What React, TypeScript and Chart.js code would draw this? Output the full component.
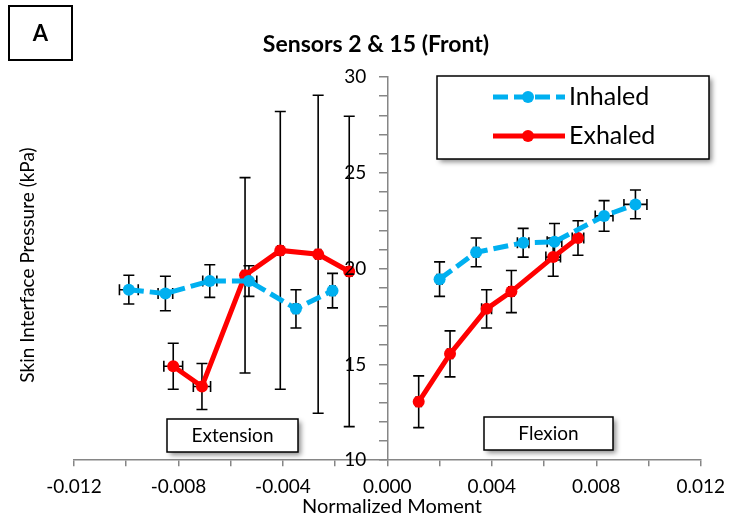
import React, { useEffect, useRef } from "react";
import { Chart, registerables } from "chart.js";
Chart.register(...registerables);

const FONT = "Lato, 'Open Sans', sans-serif";

const chartTitle = "Sensors 2 & 15 (Front)";
const panelLabel = "A";
const xAxisTitle = "Normalized Moment";
const yAxisTitle = "Skin Interface Pressure (kPa)";
const seriesNames = ["Inhaled", "Exhaled"];
const regionLabels = ["Extension", "Flexion"];

// Inhaled (extension side then flexion side)
const inhaledX = [-0.0099, -0.0085, -0.0068, -0.0053, -0.0035, -0.0021, 0.002, 0.0034, 0.0052, 0.0064, 0.0083, 0.0095];
const inhaledY = [18.9, 18.7, 19.35, 19.35, 17.9, 18.85, 19.45, 20.85, 21.35, 21.4, 22.75, 23.35];
const inhaledYErr = [0.75, 0.9, 0.85, 0.8, 1.0, 0.9, 0.9, 0.75, 0.75, 0.95, 0.8, 0.75];
const inhaledXErr = [0.00036, 0.00028, 0.00027, 0.0003, 0.0001, 0.0001, 0.0001, 0.0001, 0.00022, 0.00028, 0.00034, 0.00044];

// Exhaled
const exhaledX = [-0.0082, -0.0071, -0.00545, -0.0041, -0.00265, -0.00146, 0.0012, 0.0024, 0.0038, 0.00475, 0.00635, 0.0073];
const exhaledY = [14.9, 13.85, 19.65, 20.95, 20.75, 19.85, 13.05, 15.55, 17.9, 18.8, 20.6, 21.6];
const exhaledYErr = [1.2, 1.2, 5.1, 7.25, 8.3, 8.1, 1.35, 1.2, 1.0, 1.1, 1.0, 0.9];
const exhaledXErr = [0.00036, 0.00033, 0.0001, 0.0001, 0.0001, 0.0001, 0.0001, 0.0001, 0.00019, 0.0001, 0.00028, 0.00022];

const BLUE = "#00B0F0";
const RED = "#FF0000";
const AXIS_GRAY = "#868686";
const BLUE_DASH = [15, 6];

function buildPoints(xs: number[], ys: number[]) {
  const pts: any[] = [];
  xs.forEach((x, i) => {
    if (i > 0 && xs[i - 1] < 0 && x > 0) pts.push({ x: 0, y: null });
    pts.push({ x, y: ys[i] });
  });
  return pts;
}

const errorBarPlugin = {
  id: "errorBars",
  beforeDatasetsDraw(chart: any) {
    const { ctx, scales } = chart;
    const xs = scales.x;
    const ys = scales.y;
    const sets = [
      [inhaledX, inhaledY, inhaledXErr, inhaledYErr],
      [exhaledX, exhaledY, exhaledXErr, exhaledYErr],
    ];
    ctx.save();
    ctx.strokeStyle = "#000";
    ctx.lineWidth = 1.6;
    const cap = 5.5;
    sets.forEach(([X, Y, XE, YE]) => {
      X.forEach((xv: number, i: number) => {
        const px = xs.getPixelForValue(xv);
        const py = ys.getPixelForValue(Y[i]);
        const t = ys.getPixelForValue(Y[i] + YE[i]);
        const b = ys.getPixelForValue(Y[i] - YE[i]);
        const l = xs.getPixelForValue(xv - XE[i]);
        const r = xs.getPixelForValue(xv + XE[i]);
        ctx.beginPath();
        ctx.moveTo(px, t); ctx.lineTo(px, b);
        ctx.moveTo(px - cap, t); ctx.lineTo(px + cap, t);
        ctx.moveTo(px - cap, b); ctx.lineTo(px + cap, b);
        ctx.moveTo(l, py); ctx.lineTo(r, py);
        ctx.moveTo(l, py - cap); ctx.lineTo(l, py + cap);
        ctx.moveTo(r, py - cap); ctx.lineTo(r, py + cap);
        ctx.stroke();
      });
    });
    ctx.restore();
  },
};

// y tick labels drawn left of the centred y axis, from the scale's own ticks
const yLabelPlugin = {
  id: "yLabels",
  afterDraw(chart: any) {
    const { ctx, scales } = chart;
    const ys = scales.y;
    const axisX = scales.x.getPixelForValue(0);
    ctx.save();
    ctx.fillStyle = "#000";
    ctx.font = `19px ${FONT}`;
    ctx.textAlign = "right";
    ctx.textBaseline = "middle";
    ys.ticks.forEach((t: any) => {
      const v = Math.round(t.value);
      if (v % 5 !== 0) return;
      ctx.fillText(String(v), axisX - 21, ys.getPixelForValue(t.value));
    });
    ctx.restore();
  },
};

function shadowBox(ctx: CanvasRenderingContext2D, x: number, y: number, w: number, h: number, lw: number) {
  ctx.save();
  ctx.shadowColor = "rgba(0,0,0,0.45)";
  ctx.shadowBlur = 5;
  ctx.shadowOffsetX = 3;
  ctx.shadowOffsetY = 3;
  ctx.fillStyle = "#fff";
  ctx.fillRect(x, y, w, h);
  ctx.restore();
  ctx.save();
  ctx.strokeStyle = "#000";
  ctx.lineWidth = lw;
  ctx.strokeRect(x, y, w, h);
  ctx.restore();
}

const decorPlugin = {
  id: "decor",
  afterDraw(chart: any) {
    const ctx: CanvasRenderingContext2D = chart.ctx;
    // Panel label box
    ctx.save();
    ctx.strokeStyle = "#000";
    ctx.lineWidth = 2;
    ctx.strokeRect(9, 6, 63, 54);
    ctx.fillStyle = "#000";
    ctx.font = `bold 22px ${FONT}`;
    ctx.textAlign = "center";
    ctx.textBaseline = "middle";
    ctx.fillText(panelLabel, 40.5, 34);
    // Title
    ctx.font = `bold 23px ${FONT}`;
    ctx.fillText(chartTitle, 376, 45);
    // X axis title
    ctx.font = `20px ${FONT}`;
    ctx.fillText(xAxisTitle, 392, 507);
    // Y axis title
    ctx.save();
    ctx.translate(28, 265);
    ctx.rotate(-Math.PI / 2);
    ctx.font = `19px ${FONT}`;
    ctx.fillStyle = "#000";
    ctx.fillText(yAxisTitle, 0, 0);
    ctx.restore();
    ctx.restore();

    // Region label boxes
    shadowBox(ctx, 167, 419, 131, 33, 1.5);
    shadowBox(ctx, 484, 417, 129, 33, 1.5);
    ctx.save();
    ctx.fillStyle = "#000";
    ctx.font = `19px ${FONT}`;
    ctx.textAlign = "center";
    ctx.textBaseline = "middle";
    ctx.fillText(regionLabels[0], 232.5, 436);
    ctx.fillText(regionLabels[1], 548.5, 434);
    ctx.restore();

    // Legend
    shadowBox(ctx, 437, 76, 272, 83, 1.5);
    const rows = [
      { y: 97, color: BLUE, dash: BLUE_DASH, name: seriesNames[0] },
      { y: 136, color: RED, dash: [], name: seriesNames[1] },
    ];
    rows.forEach((r) => {
      ctx.save();
      ctx.strokeStyle = r.color;
      ctx.lineWidth = 5;
      ctx.setLineDash(r.dash);
      ctx.beginPath();
      ctx.moveTo(493, r.y);
      ctx.lineTo(565, r.y);
      ctx.stroke();
      ctx.setLineDash([]);
      ctx.fillStyle = r.color;
      ctx.beginPath();
      ctx.arc(528, r.y, 6, 0, Math.PI * 2);
      ctx.fill();
      ctx.fillStyle = "#000";
      ctx.font = `25px ${FONT}`;
      ctx.textAlign = "left";
      ctx.textBaseline = "middle";
      ctx.fillText(r.name, 569, r.y);
      ctx.restore();
    });
  },
};

export default function App() {
  const ref = useRef<HTMLCanvasElement | null>(null);
  useEffect(() => {
    if (!ref.current) return;
    const chart = new Chart(ref.current, {
      type: "scatter",
      data: {
        datasets: [
          {
            label: seriesNames[0],
            data: buildPoints(inhaledX, inhaledY),
            showLine: true,
            spanGaps: false,
            borderColor: BLUE,
            backgroundColor: BLUE,
            borderWidth: 5,
            borderDash: BLUE_DASH,
            pointRadius: 6,
            pointBorderWidth: 0,
            pointBackgroundColor: BLUE,
          },
          {
            label: seriesNames[1],
            data: buildPoints(exhaledX, exhaledY),
            showLine: true,
            spanGaps: false,
            borderColor: RED,
            backgroundColor: RED,
            borderWidth: 5,
            pointRadius: 6,
            pointBorderWidth: 0,
            pointBackgroundColor: RED,
          },
        ],
      },
      options: {
        animation: false,
        responsive: false,
        layout: { padding: { left: 74, right: 23, top: 77, bottom: 13 } },
        plugins: {
          legend: { display: false },
          tooltip: { enabled: false },
          title: { display: false },
        },
        scales: {
          x: {
            type: "linear",
            min: -0.012,
            max: 0.012,
            position: "bottom",
            border: { color: AXIS_GRAY, width: 1.5 },
            grid: { drawOnChartArea: false, drawTicks: true, tickLength: 6, color: AXIS_GRAY, lineWidth: 1.5 },
            ticks: {
              stepSize: 0.002,
              maxTicksLimit: 100,
              autoSkip: false,
              maxRotation: 0,
              padding: 9,
              color: "#000",
              font: { family: FONT, size: 19 },
              callback: (v: any) => {
                const n = Math.round(Number(v) / 0.002);
                if (n % 2 !== 0) return "";
                return (n * 0.002).toFixed(3);
              },
            },
          },
          y: {
            type: "linear",
            min: 10,
            max: 30,
            position: { x: 0 } as any,
            border: { color: AXIS_GRAY, width: 1.5 },
            grid: { drawOnChartArea: false, drawTicks: true, tickLength: 8, color: AXIS_GRAY, lineWidth: 1.5 },
            ticks: {
              stepSize: 1,
              maxTicksLimit: 100,
              autoSkip: false,
              display: false,
            },
          },
        },
      },
      plugins: [errorBarPlugin, yLabelPlugin, decorPlugin],
    });
    return () => chart.destroy();
  }, []);
  return (
    <div style={{ position: "fixed", left: 0, top: 0, width: 734, height: 520, background: "#fff" }}>
      <canvas ref={ref} width={734} height={520} style={{ width: 734, height: 520 }} />
    </div>
  );
}
